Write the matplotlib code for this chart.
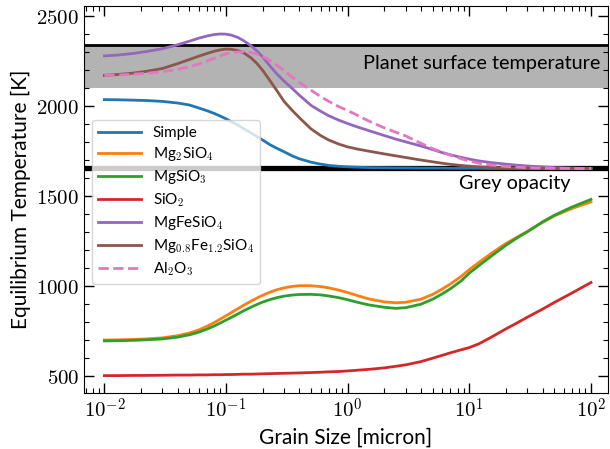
import math
import matplotlib
matplotlib.use("Agg")
import matplotlib.pyplot as plt
from matplotlib.ticker import FuncFormatter, MultipleLocator, LogLocator

plt.rcParams["font.family"] = ["Lato", "DejaVu Sans"]
plt.rcParams["mathtext.fontset"] = "cm"

# grain sizes [micron]
grain_size = [0.01, 0.013, 0.017, 0.022, 0.03, 0.04, 0.05, 0.06, 0.07, 0.08,
              0.09, 0.1, 0.11, 0.125, 0.14, 0.16, 0.18, 0.2, 0.23, 0.26,
              0.3, 0.35, 0.4, 0.5, 0.6, 0.7, 0.85, 1, 1.2, 1.5,
              2, 2.5, 3, 4, 5, 6, 7, 8.5, 10, 12,
              15, 20, 25, 30, 40, 50, 70, 100]

t_simple = [2035, 2034, 2032, 2030, 2025, 2016, 2005, 1988, 1973, 1958,
            1943, 1928, 1913, 1893, 1873, 1850, 1830, 1810, 1784, 1765,
            1745, 1722, 1706, 1687, 1676, 1669, 1664, 1661, 1659, 1657,
            1656, 1655, 1655, 1654, 1654, 1654, 1653, 1653, 1653, 1653,
            1652, 1652, 1652, 1652, 1652, 1652, 1652, 1652]
t_mg2sio4 = [698, 699, 701, 704, 710, 722, 737, 755, 775, 795,
             815, 833, 850, 872, 892, 914, 932, 947, 964, 977,
             988, 996, 1000, 1000, 995, 988, 975, 962, 945, 926,
             910, 905, 908, 925, 952, 982, 1010, 1050, 1090, 1130,
             1178, 1235, 1272, 1302, 1352, 1388, 1430, 1466]
t_mgsio3 = [693, 694, 696, 699, 704, 714, 727, 742, 759, 776,
            793, 809, 823, 843, 861, 880, 896, 909, 923, 933,
            942, 948, 951, 952, 949, 943, 933, 922, 908, 893,
            880, 874, 878, 897, 925, 955, 983, 1025, 1070, 1112,
            1162, 1225, 1268, 1300, 1355, 1392, 1438, 1480]
t_sio2 = [500, 500, 501, 501, 502, 503, 503, 504, 504, 505,
          505, 506, 506, 507, 508, 508, 509, 510, 511, 512,
          513, 514, 515, 517, 519, 521, 523, 526, 530, 535,
          543, 552, 560, 578, 597, 613, 627, 643, 656, 677,
          712, 760, 795, 825, 870, 907, 960, 1018]
t_mgfesio4 = [2278, 2283, 2291, 2302, 2318, 2340, 2360, 2377, 2389, 2397,
              2400, 2399, 2394, 2381, 2362, 2335, 2305, 2272, 2222, 2180,
              2138, 2097, 2060, 2003, 1970, 1945, 1920, 1902, 1883, 1862,
              1835, 1815, 1800, 1777, 1757, 1740, 1728, 1714, 1704, 1694,
              1685, 1676, 1670, 1666, 1661, 1657, 1654, 1652]
t_mgfe12 = [2170, 2175, 2182, 2192, 2208, 2235, 2258, 2277, 2292, 2304,
            2312, 2316, 2315, 2308, 2295, 2268, 2235, 2198, 2140, 2088,
            2025, 1975, 1935, 1872, 1835, 1810, 1787, 1772, 1760, 1748,
            1733, 1722, 1713, 1699, 1689, 1681, 1675, 1669, 1665, 1661,
            1658, 1656, 1655, 1654, 1653, 1652, 1652, 1652]
t_al2o3 = [2170, 2172, 2176, 2181, 2190, 2203, 2218, 2233, 2250, 2265,
           2278, 2290, 2296, 2300, 2301, 2297, 2288, 2275, 2252, 2228,
           2195, 2160, 2131, 2087, 2052, 2025, 1995, 1974, 1948, 1915,
           1878, 1853, 1833, 1792, 1762, 1742, 1726, 1707, 1693, 1681,
           1671, 1663, 1659, 1656, 1654, 1653, 1652, 1652]

planet_low, planet_high = 2100, 2340
grey_opacity = 1657

fig = plt.figure(figsize=(6.1, 4.49), dpi=100)
ax = fig.add_axes([0.1377, 0.1254, 0.859, 0.861])

ax.axhspan(planet_low, planet_high, color="0.7", lw=0, zorder=1)
ax.axhline(planet_high, color="k", lw=2, zorder=1.5)
ax.axhline(grey_opacity, color="k", lw=3.8, zorder=1.5)

ax.plot(grain_size, t_simple, color="C0", lw=2, label="Simple", zorder=2)
ax.plot(grain_size, t_mg2sio4, color="C1", lw=2, label=r"Mg$_2$SiO$_4$", zorder=2)
ax.plot(grain_size, t_mgsio3, color="C2", lw=2, label=r"MgSiO$_3$", zorder=2)
ax.plot(grain_size, t_sio2, color="C3", lw=2, label=r"SiO$_2$", zorder=2)
ax.plot(grain_size, t_mgfesio4, color="C4", lw=2, label=r"MgFeSiO$_4$", zorder=2)
ax.plot(grain_size, t_mgfe12, color="C5", lw=2, label=r"Mg$_{0.8}$Fe$_{1.2}$SiO$_4$", zorder=2)
ax.plot(grain_size, t_al2o3, color="C6", lw=2, ls="--", label=r"Al$_2$O$_3$", zorder=2)

ax.text(0.985, (2235 - 405) / (2555 - 405), "Planet surface temperature", transform=ax.transAxes,
        ha="right", va="center", fontsize=14.3)
ax.text(0.929, (1570 - 405) / (2555 - 405), "Grey opacity", transform=ax.transAxes,
        ha="right", va="center", fontsize=14.3)

ax.set_xscale("log")
ax.set_xlim(0.0068, 138)
ax.set_ylim(405, 2555)

ax.xaxis.set_major_locator(LogLocator(base=10, numticks=10))
ax.xaxis.set_minor_locator(LogLocator(base=10, subs=range(2, 10), numticks=20))
ax.xaxis.set_major_formatter(FuncFormatter(lambda v, p: r"$10^{%d}$" % round(math.log10(v))))
ax.yaxis.set_major_locator(MultipleLocator(500))
ax.yaxis.set_minor_locator(MultipleLocator(100))
ax.yaxis.set_major_formatter(FuncFormatter(lambda v, p: r"$%d$" % v))

ax.tick_params(which="both", direction="in", top=True, right=True, labelsize=15)
ax.tick_params(which="major", length=7, width=1)
ax.tick_params(which="minor", length=3.5, width=0.8)

ax.set_xlabel("Grain Size [micron]", fontsize=15)
ax.set_ylabel("Equilibrium Temperature [K]", fontsize=15)

ax.legend(loc="upper left", bbox_to_anchor=(0.0, 0.725), fontsize=11, handlelength=2.8,
          labelspacing=0.33, borderaxespad=0.5)

fig.savefig("out.png", dpi=100)
